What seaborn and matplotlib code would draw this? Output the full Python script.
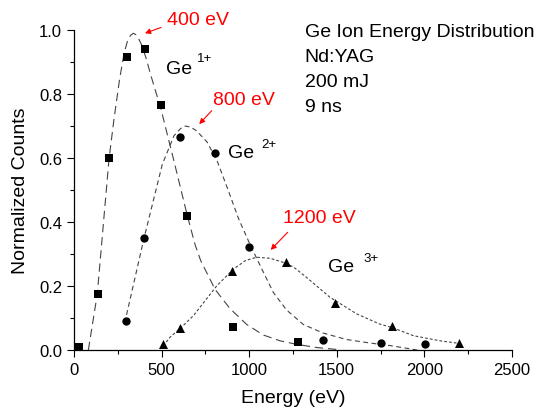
import numpy as np
import pandas as pd
import seaborn as sns
import matplotlib.pyplot as plt

# measured points
e1 = [28, 135, 200, 301, 403, 499, 643, 906, 1277]
c1 = [0.010, 0.175, 0.599, 0.915, 0.940, 0.767, 0.418, 0.073, 0.024]
e2 = [299, 400, 603, 803, 999, 1423, 1752, 2005]
c2 = [0.091, 0.351, 0.666, 0.616, 0.323, 0.030, 0.022, 0.019]
e3 = [510, 607, 900, 1210, 1492, 1815, 2199]
c3 = [0.019, 0.068, 0.248, 0.276, 0.147, 0.074, 0.021]

# fitted curves
fit1_e = [82, 133, 200, 228, 260, 285, 305, 322, 339, 355, 370, 385, 410, 438, 498, 571,
          647, 691, 723, 805, 890, 986, 1081, 1176, 1271, 1385, 1499]
fit1_c = [0.0, 0.175, 0.597, 0.72, 0.845, 0.925, 0.965, 0.983, 0.99, 0.985, 0.972, 0.955,
          0.915, 0.86, 0.75, 0.59, 0.42, 0.33, 0.28, 0.19, 0.13, 0.08, 0.047, 0.029,
          0.018, 0.008, 0.002]
fit2_e = [300, 400, 504, 571, 610, 637, 665, 700, 760, 818, 880, 940, 1005, 1062,
          1138, 1214, 1309, 1423, 1556, 1690, 1804, 1918, 1960]
fit2_c = [0.11, 0.35, 0.58, 0.67, 0.693, 0.70, 0.697, 0.685, 0.65, 0.59, 0.50, 0.41,
          0.33, 0.265, 0.18, 0.125, 0.08, 0.053, 0.033, 0.022, 0.014, 0.004, 0.0]
fit3_e = [510, 548, 607, 681, 814, 910, 980, 1043, 1119, 1195, 1252, 1328, 1461,
          1500, 1614, 1747, 1819, 1937, 2089, 2184]
fit3_c = [0.013, 0.04, 0.068, 0.107, 0.2, 0.253, 0.28, 0.29, 0.287, 0.274, 0.26,
          0.227, 0.165, 0.152, 0.113, 0.081, 0.07, 0.045, 0.029, 0.022]

peak_labels = ["400 eV", "800 eV", "1200 eV"]
info_lines = ["Ge Ion Energy Distribution", "Nd:YAG", "200 mJ", "9 ns"]

sns.set_style("ticks")
plt.rcParams['font.family'] = ['Liberation Sans', 'DejaVu Sans']
plt.rcParams['lines.scale_dashes'] = False
plt.rcParams['text.color'] = 'black'
plt.rcParams['axes.labelcolor'] = 'black'
plt.rcParams['xtick.color'] = 'black'
plt.rcParams['ytick.color'] = 'black'

fig = plt.figure(figsize=(5.44, 4.14), dpi=100)
ax = fig.add_axes([0.136, 0.152, 0.805, 0.773])

# fit curves
curves = [(fit1_e, fit1_c, (0, (6, 3.5))), (fit2_e, fit2_c, (0, (3.5, 2.5))),
          (fit3_e, fit3_c, (0, (2, 1.5)))]
for xe, yc, ls in curves:
    sns.lineplot(x=xe, y=yc, ax=ax, color="#444444", lw=0.8, linestyle=ls, sort=False)

# data points
sns.scatterplot(x=e1, y=c1, ax=ax, marker="s", s=30, color="black", edgecolor="black",
                linewidth=0, clip_on=False, zorder=5)
sns.scatterplot(x=e2, y=c2, ax=ax, marker="o", s=36, color="black", edgecolor="black",
                linewidth=0, clip_on=False, zorder=5)
sns.scatterplot(x=e3, y=c3, ax=ax, marker="^", s=42, color="black", edgecolor="black",
                linewidth=0, clip_on=False, zorder=5)

ax.set_xlim(0, 2500)
ax.set_ylim(0, 1.0)
ax.set_xticks([0, 500, 1000, 1500, 2000, 2500])
ax.set_xticks([250, 750, 1250, 1750, 2250], minor=True)
ax.set_yticks([0.0, 0.2, 0.4, 0.6, 0.8, 1.0])
ax.set_yticks([0.1, 0.3, 0.5, 0.7, 0.9], minor=True)
ax.set_yticklabels(["0.0", "0.2", "0.4", "0.6", "0.8", "1.0"])
ax.tick_params(which="major", length=5, width=0.8, labelsize=12, color="black")
ax.tick_params(which="minor", length=3, width=0.8, color="black")
for s in ["left", "bottom"]:
    ax.spines[s].set_linewidth(0.9)
    ax.spines[s].set_color("black")
sns.despine(ax=ax)

ax.set_xlabel("Energy (eV)", fontsize=14, labelpad=9)
ax.set_ylabel("Normalized Counts", fontsize=14, labelpad=7)

# peak annotations
arrow = dict(arrowstyle="-|>", color="red", lw=0.8, mutation_scale=8, shrinkA=0, shrinkB=0)
ax.annotate("", xy=(405, 0.99), xytext=(497, 1.008), arrowprops=arrow, annotation_clip=False)
ax.text(531, 1.019, peak_labels[0], color="red", fontsize=14, clip_on=False)
ax.annotate("", xy=(715, 0.706), xytext=(786, 0.748), arrowprops=arrow)
ax.text(793, 0.769, peak_labels[1], color="red", fontsize=14)
ax.annotate("", xy=(1123, 0.313), xytext=(1220, 0.368), arrowprops=arrow)
ax.text(1193, 0.40, peak_labels[2], color="red", fontsize=14)

# ion labels
ax.text(525, 0.866, "Ge", fontsize=14)
ax.text(700, 0.903, "1+", fontsize=9.5)
ax.text(879, 0.603, "Ge", fontsize=14)
ax.text(1070, 0.634, "2+", fontsize=9.5)
ax.text(1450, 0.248, "Ge", fontsize=14)
ax.text(1650, 0.279, "3+", fontsize=9.5)

for i, line in enumerate(info_lines):
    ax.text(1318, 0.981 - i * 0.078, line, fontsize=14)

fig.savefig("out.png", dpi=100)
